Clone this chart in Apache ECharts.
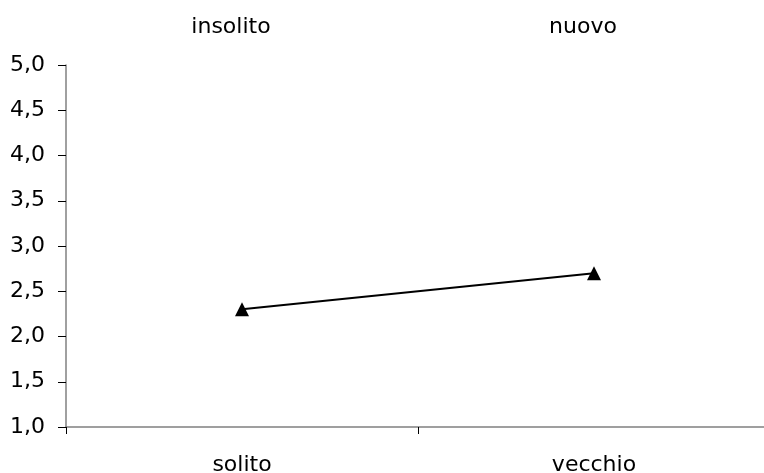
<!DOCTYPE html>
<html><head><meta charset="utf-8">
<script src="https://cdn.jsdelivr.net/npm/echarts@6/dist/echarts.min.js"></script>
<style>html,body{margin:0;padding:0;background:#fff}#c{width:764px;height:473px}</style>
</head><body><div id="c"></div>
<script>
const bottomCategories = ['solito', 'vecchio'];
const topCategories = ['insolito', 'nuovo'];
const values = [2.3, 2.7];
const yMin = 1, yMax = 5, yInterval = 0.5;

const chart = echarts.init(document.getElementById('c'));
const font = '"DejaVu Sans", sans-serif';
chart.setOption({
  animation: false,
  backgroundColor: '#fff',
  grid: { left: 66, top: 65, right: -6, bottom: 46, containLabel: false, outerBoundsMode: 'none' },
  xAxis: [{
    type: 'category', data: bottomCategories, position: 'bottom',
    boundaryGap: true,
    axisLine: { lineStyle: { color: '#808080', width: 1.5 } },
    axisTick: { show: true, length: 7, lineStyle: { color: '#000' } },
    axisLabel: { margin: 27, fontSize: 22, color: '#000', fontFamily: font }
  }, {
    type: 'category', data: topCategories, position: 'top',
    boundaryGap: true,
    axisLine: { show: false }, axisTick: { show: false },
    axisLabel: { margin: 27, fontSize: 22, color: '#000', fontFamily: font, padding: [0, 22, 0, 0] }
  }],
  yAxis: {
    type: 'value', min: yMin, max: yMax, interval: yInterval,
    axisLine: { show: true, lineStyle: { color: '#808080', width: 1.5 } },
    axisTick: { show: true, length: 8, lineStyle: { color: '#000' } },
    splitLine: { show: false },
    axisLabel: { margin: 21, fontSize: 22, color: '#000', fontFamily: font,
      formatter: v => v.toFixed(1).replace('.', ',') }
  },
  series: [{
    type: 'line', data: values, xAxisIndex: 0,
    symbol: 'triangle', symbolSize: 14,
    lineStyle: { color: '#000', width: 2 },
    itemStyle: { color: '#000' }
  }]
});
</script></body></html>
